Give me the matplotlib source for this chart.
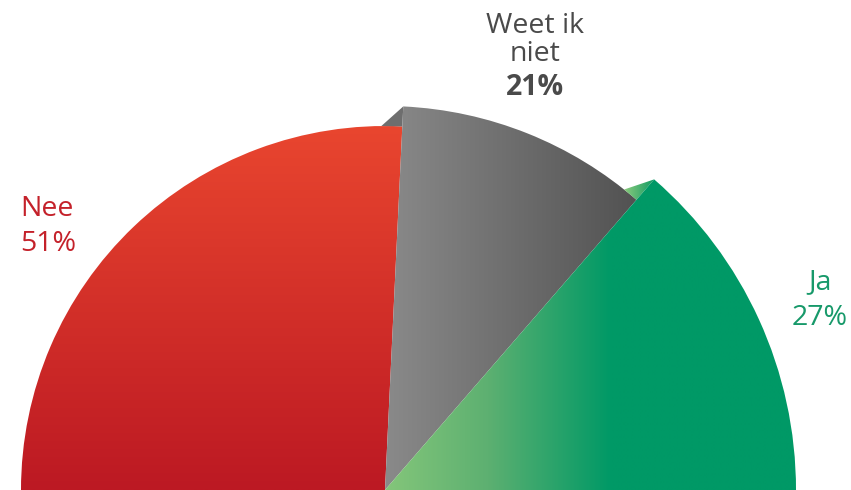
import numpy as np
import matplotlib
matplotlib.use("Agg")
import matplotlib.pyplot as plt
from matplotlib.patches import Wedge, Polygon
from matplotlib.colors import to_rgb

# ---- data ----
categories = ["Nee", "Weet ik niet", "Ja"]
label_lines = [["Nee"], ["Weet ik", "niet"], ["Ja"]]
values = [51, 21, 27]
pct_labels = ["51%", "21%", "27%"]

# ---- style ----
W, H = 851, 490
fig = plt.figure(figsize=(W / 100, H / 100), dpi=100)
ax = fig.add_axes([0, 0, 1, 1])
ax.set_xlim(0, W)
ax.set_ylim(0, H)
ax.axis("off")

cx, cy = 385, 0
radii = [364, 384, 411]
font = "Open Sans"


def grad_image(stops, n=256, horizontal=True):
    pos = np.array([s[0] for s in stops])
    cols = np.array([to_rgb(s[1]) for s in stops])
    t = np.linspace(0, 1, n)
    arr = np.stack([np.interp(t, pos, cols[:, k]) for k in range(3)], axis=-1)
    if horizontal:
        return arr[np.newaxis, :, :]
    return arr[:, np.newaxis, :]


# angles: half pie, normalized to the sum of values
total = sum(values)
spans = [v / total * 180.0 for v in values]
bounds = [180.0]
for s in spans:
    bounds.append(bounds[-1] - s)

def pt(r, ang):
    a = np.deg2rad(ang)
    return (cx + r * np.cos(a), cy + r * np.sin(a))

# --- red wedge (Nee) ---
w_red = Wedge((cx, cy), radii[0], bounds[1], bounds[0], facecolor="none", edgecolor="none")
ax.add_patch(w_red)
img = ax.imshow(grad_image([(0, "#BC1923"), (1, "#E9462F")], horizontal=False),
                extent=[cx - radii[0], cx + radii[0], 0, radii[0]],
                origin="lower", aspect="auto", interpolation="bilinear", zorder=1)
img.set_clip_path(w_red)

# --- gray facet (small side triangle) ---
gf = Polygon([pt(radii[1], bounds[1]), pt(radii[0], bounds[1]), pt(radii[0], bounds[1] + 3.3)],
             closed=True, facecolor="#6E6E6E", edgecolor="none", zorder=2)
ax.add_patch(gf)

# --- gray wedge (Weet ik niet) ---
w_gray = Wedge((cx, cy), radii[1], bounds[2], bounds[1], facecolor="none", edgecolor="none")
ax.add_patch(w_gray)
img = ax.imshow(grad_image([(0, "#8A8A8A"), (1, "#505050")]),
                extent=[cx, cx + 260, 0, radii[1]],
                origin="lower", aspect="auto", interpolation="bilinear", zorder=3)
img.set_clip_path(w_gray)

# --- green facet ---
gr = Polygon([pt(radii[2], bounds[2]), pt(radii[1], bounds[2]), pt(radii[1], bounds[2] + 2.4)],
             closed=True, facecolor="none", edgecolor="none", zorder=4)
ax.add_patch(gr)
p_a = pt(radii[1], bounds[2] + 2.4)
p_b = pt(radii[2], bounds[2])
img = ax.imshow(grad_image([(0, "#8CCB7E"), (1, "#0E9A63")]),
                extent=[p_a[0], p_b[0], cy, radii[2]],
                origin="lower", aspect="auto", interpolation="bilinear", zorder=4)
img.set_clip_path(gr)

# --- green wedge (Ja) ---
w_green = Wedge((cx, cy), radii[2], bounds[3], bounds[2], facecolor="none", edgecolor="none")
ax.add_patch(w_green)
img = ax.imshow(grad_image([(0, "#84C67A"), (0.25, "#5DB071"), (0.55, "#009966"), (1, "#009966")]),
                extent=[cx, cx + radii[2], 0, radii[2]],
                origin="lower", aspect="auto", interpolation="bilinear", zorder=5)
img.set_clip_path(w_green)

# ---- labels ----
fs = 20.5
def y(py):
    return H - py

# Nee
ax.text(20, y(216), label_lines[0][0], color="#C4212A", fontsize=fs, family=font,
        ha="left", va="baseline", zorder=10)
ax.text(20, y(251), pct_labels[0], color="#C4212A", fontsize=fs, family=font,
        ha="left", va="baseline", zorder=10)

# Weet ik niet
ax.text(535, y(33), label_lines[1][0], color="#4A4A4A", fontsize=fs, family=font,
        ha="center", va="baseline", zorder=10)
ax.text(535, y(61), label_lines[1][1], color="#4A4A4A", fontsize=fs, family=font,
        ha="center", va="baseline", zorder=10)
ax.text(535, y(95), pct_labels[1], color="#4A4A4A", fontsize=fs, family=font,
        fontweight="bold", ha="center", va="baseline", zorder=10)

# Ja
ax.text(820, y(289), label_lines[2][0], color="#17996A", fontsize=fs, family=font,
        ha="center", va="baseline", zorder=10)
ax.text(820, y(325), pct_labels[2], color="#17996A", fontsize=fs, family=font,
        ha="center", va="baseline", zorder=10)

fig.savefig("out.png", dpi=100)
